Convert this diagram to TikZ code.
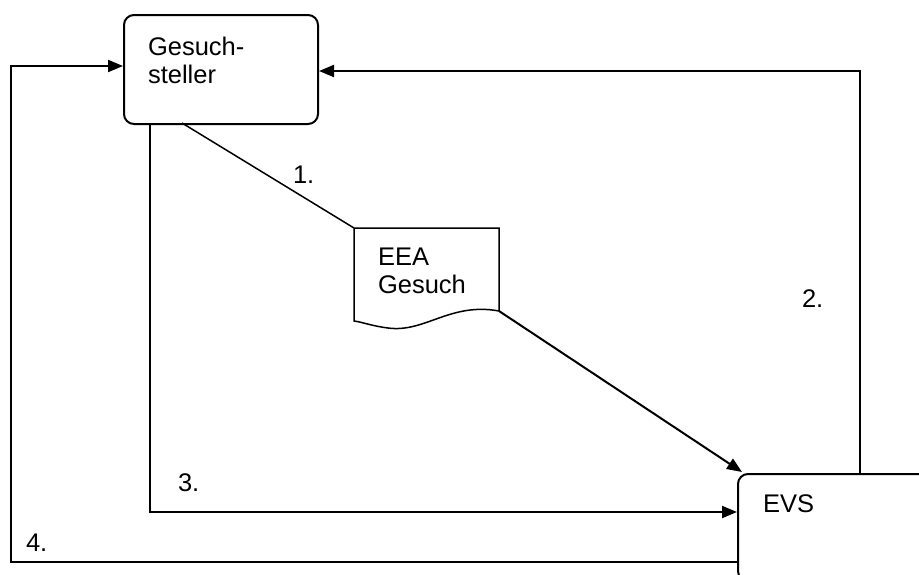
\documentclass[tikz,border=0pt]{standalone}
\usepackage{fontspec}
\setmainfont{Liberation Sans}
\usetikzlibrary{arrows.meta}
\begin{document}
\begin{tikzpicture}[x=1pt,y=1pt,
  line width=2pt,
  box/.style={draw, rounded corners=10pt, minimum width=#1, inner sep=0pt, anchor=north west},
  txt/.style={anchor=base west, inner sep=0pt, font=\fontsize{25.5}{29}\selectfont},
  arr/.style={-{Triangle[length=15pt,width=12pt]}}]
\useasboundingbox (0,0) rectangle (919,-574);
% boxes
\node[box=194pt, minimum height=109pt] (gs) at (123,-14) {};
\node[box=260pt, minimum height=107pt] (evs) at (737,-473) {};
\node[anchor=north west, minimum width=143pt, minimum height=81pt, inner sep=0pt] (doc) at (354,-228) {};
\draw[line width=1.5pt] (doc.north west) -- (doc.north east) -- (doc.south east)
  .. controls (450,-302) and (425,-333) .. (388,-328)
  .. controls (372,-326) and (362,-322) .. (354,-321) -- cycle;
% texts
\node[txt] (gs1) at (147,-55) {Gesuch-};
\node[txt] (gs2) at (147,-83) {steller};
\node[txt] (doc1) at (377,-265) {EEA};
\node[txt] (doc2) at (377,-293) {Gesuch};
\node[txt] (evst) at (762,-512) {EVS};
\node[txt] (l1) at (292,-183) {1.};
\node[txt] (l2) at (801,-307) {2.};
\node[txt] (l3) at (177,-491) {3.};
\node[txt] (l4) at (25,-551) {4.};
% connector coordinates
\coordinate (c1) at (182,-123);
\coordinate (c3) at (150,-123);
\coordinate (c2) at (860,-473);
\coordinate (c4) at (737,-562);
% connectors
\draw[line width=1.5pt] (c1) -- (doc.north west);
\draw[arr] (doc.south east) -- (742,-472);
\draw[arr] (c2) |- (gs.east |- 0,-71);
\draw[arr] (c3) |- (evs.west |- 0,-512);
\draw[arr] (c4) -- (11,-562) |- (gs.west |- 0,-66);
\end{tikzpicture}
\end{document}
